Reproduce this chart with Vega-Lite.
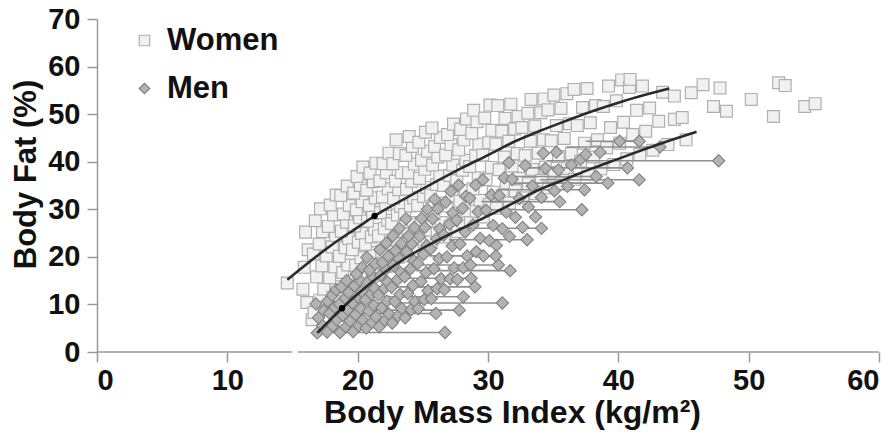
{
  "$schema": "https://vega.github.io/schema/vega-lite/v6.json",
  "width": 782,
  "height": 333,
  "autosize": {"type": "none"},
  "padding": {"left": 97, "top": 19, "right": 15, "bottom": 87},
  "background": "white",
  "config": {
    "font": "Liberation Sans",
    "view": {"stroke": null},
    "axis": {"grid": false, "labelFont": "Liberation Sans", "titleFont": "Liberation Sans"}
  },
  "datasets": {
    "subjects": [
      {"sex":"Women","bmi":14.6,"fat":14.5},{"sex":"Women","bmi":15.8,"fat":13.2},{"sex":"Women","bmi":16.1,"fat":10.4},{"sex":"Women","bmi":15.9,"fat":17.8},{"sex":"Women","bmi":16.2,"fat":21.5},{"sex":"Women","bmi":16.0,"fat":25.2},{"sex":"Women","bmi":16.5,"fat":6.8},
      {"sex":"Women","bmi":16.65,"fat":8.3},{"sex":"Women","bmi":17.1,"fat":10.9},{"sex":"Women","bmi":17.4,"fat":13.2},{"sex":"Women","bmi":16.85,"fat":15.8},{"sex":"Women","bmi":17.25,"fat":18.1},{"sex":"Women","bmi":16.6,"fat":20.6},{"sex":"Women","bmi":17.05,"fat":22.7},{"sex":"Women","bmi":17.3,"fat":25.3},{"sex":"Women","bmi":16.75,"fat":27.6},{"sex":"Women","bmi":17.15,"fat":30.1},
      {"sex":"Women","bmi":17.65,"fat":9.4},{"sex":"Women","bmi":18.1,"fat":11.5},{"sex":"Women","bmi":18.4,"fat":13.7},{"sex":"Women","bmi":17.85,"fat":15.6},{"sex":"Women","bmi":18.25,"fat":17.9},{"sex":"Women","bmi":17.6,"fat":20.2},{"sex":"Women","bmi":18.05,"fat":22.1},{"sex":"Women","bmi":18.3,"fat":24.5},{"sex":"Women","bmi":17.75,"fat":26.4},{"sex":"Women","bmi":18.15,"fat":28.8},{"sex":"Women","bmi":17.9,"fat":30.9},{"sex":"Women","bmi":18.35,"fat":33.0},
      {"sex":"Women","bmi":18.65,"fat":11.2},{"sex":"Women","bmi":19.1,"fat":12.9},{"sex":"Women","bmi":19.4,"fat":14.8},{"sex":"Women","bmi":18.85,"fat":16.7},{"sex":"Women","bmi":19.25,"fat":18.3},{"sex":"Women","bmi":18.6,"fat":20.1},{"sex":"Women","bmi":19.05,"fat":21.9},{"sex":"Women","bmi":19.3,"fat":23.8},{"sex":"Women","bmi":18.75,"fat":25.4},{"sex":"Women","bmi":19.15,"fat":27.3},{"sex":"Women","bmi":18.9,"fat":29.0},{"sex":"Women","bmi":19.35,"fat":30.8},{"sex":"Women","bmi":18.7,"fat":32.9},{"sex":"Women","bmi":19.2,"fat":34.9},
      {"sex":"Women","bmi":19.65,"fat":13.1},{"sex":"Women","bmi":20.1,"fat":14.9},{"sex":"Women","bmi":20.4,"fat":16.4},{"sex":"Women","bmi":19.85,"fat":18.2},{"sex":"Women","bmi":20.25,"fat":19.8},{"sex":"Women","bmi":19.6,"fat":21.5},{"sex":"Women","bmi":20.05,"fat":23.1},{"sex":"Women","bmi":20.3,"fat":24.9},{"sex":"Women","bmi":19.75,"fat":26.5},{"sex":"Women","bmi":20.15,"fat":28.2},{"sex":"Women","bmi":19.9,"fat":29.9},{"sex":"Women","bmi":20.35,"fat":31.6},{"sex":"Women","bmi":19.7,"fat":33.4},{"sex":"Women","bmi":20.2,"fat":35.0},{"sex":"Women","bmi":19.95,"fat":36.9},{"sex":"Women","bmi":20.4,"fat":38.9},
      {"sex":"Women","bmi":20.65,"fat":14.3},{"sex":"Women","bmi":21.1,"fat":15.9},{"sex":"Women","bmi":21.4,"fat":17.6},{"sex":"Women","bmi":20.85,"fat":19.2},{"sex":"Women","bmi":21.25,"fat":20.9},{"sex":"Women","bmi":20.6,"fat":22.6},{"sex":"Women","bmi":21.05,"fat":24.2},{"sex":"Women","bmi":21.3,"fat":25.8},{"sex":"Women","bmi":20.75,"fat":27.5},{"sex":"Women","bmi":21.15,"fat":29.1},{"sex":"Women","bmi":20.9,"fat":30.8},{"sex":"Women","bmi":21.35,"fat":32.4},{"sex":"Women","bmi":20.7,"fat":34.0},{"sex":"Women","bmi":21.2,"fat":35.8},{"sex":"Women","bmi":20.95,"fat":37.6},{"sex":"Women","bmi":21.4,"fat":39.7},
      {"sex":"Women","bmi":21.65,"fat":16.2},{"sex":"Women","bmi":22.1,"fat":17.9},{"sex":"Women","bmi":22.4,"fat":19.5},{"sex":"Women","bmi":21.85,"fat":21.2},{"sex":"Women","bmi":22.25,"fat":22.8},{"sex":"Women","bmi":21.6,"fat":24.4},{"sex":"Women","bmi":22.05,"fat":26.0},{"sex":"Women","bmi":22.3,"fat":27.7},{"sex":"Women","bmi":21.75,"fat":29.3},{"sex":"Women","bmi":22.15,"fat":31.0},{"sex":"Women","bmi":21.9,"fat":32.6},{"sex":"Women","bmi":22.35,"fat":34.3},{"sex":"Women","bmi":21.7,"fat":36.0},{"sex":"Women","bmi":22.2,"fat":37.7},{"sex":"Women","bmi":21.95,"fat":39.6},{"sex":"Women","bmi":22.4,"fat":41.8},
      {"sex":"Women","bmi":22.65,"fat":18.1},{"sex":"Women","bmi":23.1,"fat":19.9},{"sex":"Women","bmi":23.4,"fat":21.7},{"sex":"Women","bmi":22.85,"fat":23.5},{"sex":"Women","bmi":23.25,"fat":25.3},{"sex":"Women","bmi":22.6,"fat":27.0},{"sex":"Women","bmi":23.05,"fat":28.8},{"sex":"Women","bmi":23.3,"fat":30.6},{"sex":"Women","bmi":22.75,"fat":32.3},{"sex":"Women","bmi":23.15,"fat":34.1},{"sex":"Women","bmi":22.9,"fat":35.9},{"sex":"Women","bmi":23.35,"fat":37.7},{"sex":"Women","bmi":22.7,"fat":39.6},{"sex":"Women","bmi":23.2,"fat":41.7},{"sex":"Women","bmi":22.95,"fat":44.6},
      {"sex":"Women","bmi":23.65,"fat":20.2},{"sex":"Women","bmi":24.1,"fat":21.9},{"sex":"Women","bmi":24.4,"fat":23.7},{"sex":"Women","bmi":23.85,"fat":25.4},{"sex":"Women","bmi":24.25,"fat":27.2},{"sex":"Women","bmi":23.6,"fat":28.9},{"sex":"Women","bmi":24.05,"fat":30.7},{"sex":"Women","bmi":24.3,"fat":32.4},{"sex":"Women","bmi":23.75,"fat":34.2},{"sex":"Women","bmi":24.15,"fat":35.9},{"sex":"Women","bmi":23.9,"fat":37.7},{"sex":"Women","bmi":24.35,"fat":39.5},{"sex":"Women","bmi":23.7,"fat":41.3},{"sex":"Women","bmi":24.2,"fat":43.2},{"sex":"Women","bmi":23.95,"fat":45.3},
      {"sex":"Women","bmi":24.65,"fat":21.3},{"sex":"Women","bmi":25.1,"fat":23.2},{"sex":"Women","bmi":25.4,"fat":25.1},{"sex":"Women","bmi":24.85,"fat":27.0},{"sex":"Women","bmi":25.25,"fat":28.9},{"sex":"Women","bmi":24.6,"fat":30.8},{"sex":"Women","bmi":25.05,"fat":32.7},{"sex":"Women","bmi":25.3,"fat":34.6},{"sex":"Women","bmi":24.75,"fat":36.5},{"sex":"Women","bmi":25.15,"fat":38.4},{"sex":"Women","bmi":24.9,"fat":40.3},{"sex":"Women","bmi":25.35,"fat":42.2},{"sex":"Women","bmi":24.7,"fat":44.1},{"sex":"Women","bmi":25.2,"fat":46.2},
      {"sex":"Women","bmi":25.65,"fat":23.1},{"sex":"Women","bmi":26.1,"fat":25.0},{"sex":"Women","bmi":26.4,"fat":27.2},{"sex":"Women","bmi":25.85,"fat":29.0},{"sex":"Women","bmi":26.25,"fat":31.3},{"sex":"Women","bmi":25.6,"fat":33.0},{"sex":"Women","bmi":26.05,"fat":35.2},{"sex":"Women","bmi":26.3,"fat":37.0},{"sex":"Women","bmi":25.75,"fat":39.3},{"sex":"Women","bmi":26.15,"fat":41.0},{"sex":"Women","bmi":25.9,"fat":43.2},{"sex":"Women","bmi":26.35,"fat":45.1},{"sex":"Women","bmi":25.7,"fat":47.1},
      {"sex":"Women","bmi":26.65,"fat":24.2},{"sex":"Women","bmi":27.1,"fat":26.4},{"sex":"Women","bmi":27.4,"fat":28.5},{"sex":"Women","bmi":26.85,"fat":30.7},{"sex":"Women","bmi":27.25,"fat":32.8},{"sex":"Women","bmi":26.6,"fat":35.0},{"sex":"Women","bmi":27.05,"fat":37.1},{"sex":"Women","bmi":27.3,"fat":39.3},{"sex":"Women","bmi":26.75,"fat":41.4},{"sex":"Women","bmi":27.15,"fat":43.6},{"sex":"Women","bmi":26.9,"fat":45.7},{"sex":"Women","bmi":27.35,"fat":47.9},
      {"sex":"Women","bmi":27.65,"fat":25.3},{"sex":"Women","bmi":28.1,"fat":27.4},{"sex":"Women","bmi":28.4,"fat":29.6},{"sex":"Women","bmi":27.85,"fat":31.7},{"sex":"Women","bmi":28.25,"fat":33.9},{"sex":"Women","bmi":27.6,"fat":36.0},{"sex":"Women","bmi":28.05,"fat":38.2},{"sex":"Women","bmi":28.3,"fat":40.3},{"sex":"Women","bmi":27.75,"fat":42.5},{"sex":"Women","bmi":28.15,"fat":44.6},{"sex":"Women","bmi":27.9,"fat":46.8},{"sex":"Women","bmi":28.35,"fat":49.0},
      {"sex":"Women","bmi":28.65,"fat":27.2},{"sex":"Women","bmi":29.1,"fat":29.6},{"sex":"Women","bmi":29.4,"fat":31.9},{"sex":"Women","bmi":28.85,"fat":34.3},{"sex":"Women","bmi":29.25,"fat":36.6},{"sex":"Women","bmi":28.6,"fat":39.0},{"sex":"Women","bmi":29.05,"fat":41.3},{"sex":"Women","bmi":29.3,"fat":43.7},{"sex":"Women","bmi":28.75,"fat":46.0},{"sex":"Women","bmi":29.15,"fat":48.4},{"sex":"Women","bmi":28.9,"fat":50.8},
      {"sex":"Women","bmi":29.65,"fat":28.4},{"sex":"Women","bmi":30.1,"fat":31.0},{"sex":"Women","bmi":30.4,"fat":33.6},{"sex":"Women","bmi":29.85,"fat":36.2},{"sex":"Women","bmi":30.25,"fat":38.8},{"sex":"Women","bmi":29.6,"fat":41.4},{"sex":"Women","bmi":30.05,"fat":44.0},{"sex":"Women","bmi":30.3,"fat":46.6},{"sex":"Women","bmi":29.75,"fat":49.2},{"sex":"Women","bmi":30.15,"fat":51.9},
      {"sex":"Women","bmi":30.65,"fat":30.2},{"sex":"Women","bmi":31.1,"fat":32.9},{"sex":"Women","bmi":31.4,"fat":35.6},{"sex":"Women","bmi":30.85,"fat":38.3},{"sex":"Women","bmi":31.25,"fat":41.0},{"sex":"Women","bmi":30.6,"fat":43.7},{"sex":"Women","bmi":31.05,"fat":46.4},{"sex":"Women","bmi":31.3,"fat":49.1},{"sex":"Women","bmi":30.75,"fat":51.8},
      {"sex":"Women","bmi":31.65,"fat":31.3},{"sex":"Women","bmi":32.1,"fat":33.9},{"sex":"Women","bmi":32.4,"fat":36.5},{"sex":"Women","bmi":31.85,"fat":39.1},{"sex":"Women","bmi":32.25,"fat":41.7},{"sex":"Women","bmi":31.6,"fat":44.3},{"sex":"Women","bmi":32.05,"fat":46.9},{"sex":"Women","bmi":32.3,"fat":49.5},{"sex":"Women","bmi":31.75,"fat":52.1},
      {"sex":"Women","bmi":32.65,"fat":32.4},{"sex":"Women","bmi":33.1,"fat":35.4},{"sex":"Women","bmi":33.4,"fat":38.4},{"sex":"Women","bmi":32.85,"fat":41.3},{"sex":"Women","bmi":33.25,"fat":44.3},{"sex":"Women","bmi":32.6,"fat":47.2},{"sex":"Women","bmi":33.05,"fat":50.2},{"sex":"Women","bmi":33.3,"fat":53.1},
      {"sex":"Women","bmi":33.65,"fat":33.3},{"sex":"Women","bmi":34.1,"fat":36.1},{"sex":"Women","bmi":34.4,"fat":38.9},{"sex":"Women","bmi":33.85,"fat":41.8},{"sex":"Women","bmi":34.25,"fat":44.6},{"sex":"Women","bmi":33.6,"fat":47.5},{"sex":"Women","bmi":34.05,"fat":50.3},{"sex":"Women","bmi":34.3,"fat":53.2},
      {"sex":"Women","bmi":34.65,"fat":34.5},{"sex":"Women","bmi":35.1,"fat":37.8},{"sex":"Women","bmi":35.4,"fat":41.1},{"sex":"Women","bmi":34.85,"fat":44.4},{"sex":"Women","bmi":35.25,"fat":47.6},{"sex":"Women","bmi":34.6,"fat":50.9},{"sex":"Women","bmi":35.05,"fat":54.0},
      {"sex":"Women","bmi":35.65,"fat":35.4},{"sex":"Women","bmi":36.1,"fat":38.6},{"sex":"Women","bmi":36.4,"fat":41.7},{"sex":"Women","bmi":35.85,"fat":44.9},{"sex":"Women","bmi":36.25,"fat":48.0},{"sex":"Women","bmi":35.6,"fat":51.2},{"sex":"Women","bmi":36.05,"fat":54.3},
      {"sex":"Women","bmi":36.65,"fat":36.3},{"sex":"Women","bmi":37.1,"fat":40.1},{"sex":"Women","bmi":37.4,"fat":43.9},{"sex":"Women","bmi":36.85,"fat":47.6},{"sex":"Women","bmi":37.25,"fat":51.4},{"sex":"Women","bmi":36.6,"fat":55.2},
      {"sex":"Women","bmi":37.65,"fat":37.4},{"sex":"Women","bmi":38.1,"fat":41.0},{"sex":"Women","bmi":38.4,"fat":44.6},{"sex":"Women","bmi":37.85,"fat":48.2},{"sex":"Women","bmi":38.25,"fat":51.8},{"sex":"Women","bmi":37.6,"fat":55.4},
      {"sex":"Women","bmi":38.65,"fat":38.5},{"sex":"Women","bmi":39.1,"fat":42.9},{"sex":"Women","bmi":39.4,"fat":47.2},{"sex":"Women","bmi":38.85,"fat":51.6},{"sex":"Women","bmi":39.25,"fat":55.9},
      {"sex":"Women","bmi":39.65,"fat":39.4},{"sex":"Women","bmi":40.1,"fat":43.9},{"sex":"Women","bmi":40.4,"fat":48.3},{"sex":"Women","bmi":39.85,"fat":52.8},{"sex":"Women","bmi":40.25,"fat":57.2},
      {"sex":"Women","bmi":40.65,"fat":40.6},{"sex":"Women","bmi":41.1,"fat":45.7},{"sex":"Women","bmi":41.4,"fat":50.8},{"sex":"Women","bmi":40.85,"fat":55.6},
      {"sex":"Women","bmi":41.65,"fat":41.5},{"sex":"Women","bmi":42.1,"fat":46.4},{"sex":"Women","bmi":42.4,"fat":51.3},{"sex":"Women","bmi":41.85,"fat":55.9},
      {"sex":"Women","bmi":42.65,"fat":42.4},{"sex":"Women","bmi":43.1,"fat":48.5},{"sex":"Women","bmi":43.4,"fat":54.6},
      {"sex":"Women","bmi":43.8,"fat":43.6},{"sex":"Women","bmi":44.3,"fat":48.9},{"sex":"Women","bmi":44.3,"fat":53.8},
      {"sex":"Women","bmi":45.2,"fat":44.6},{"sex":"Women","bmi":44.9,"fat":49.3},
      {"sex":"Women","bmi":45.6,"fat":54.5},{"sex":"Women","bmi":46.5,"fat":56.2},{"sex":"Women","bmi":47.8,"fat":55.5},{"sex":"Women","bmi":47.3,"fat":51.6},{"sex":"Women","bmi":48.3,"fat":50.6},{"sex":"Women","bmi":50.2,"fat":53.1},{"sex":"Women","bmi":51.9,"fat":49.5},{"sex":"Women","bmi":52.3,"fat":56.6},{"sex":"Women","bmi":52.8,"fat":56.0},{"sex":"Women","bmi":54.3,"fat":51.6},{"sex":"Women","bmi":55.1,"fat":52.2},{"sex":"Women","bmi":40.9,"fat":57.3},

      {"sex":"Men","bmi":16.9,"fat":4.0},{"sex":"Men","bmi":17.3,"fat":5.6},{"sex":"Men","bmi":17.0,"fat":7.2},{"sex":"Men","bmi":17.4,"fat":8.7},{"sex":"Men","bmi":16.8,"fat":10.1},
      {"sex":"Men","bmi":17.65,"fat":4.2},{"sex":"Men","bmi":18.1,"fat":5.5},{"sex":"Men","bmi":18.4,"fat":6.8},{"sex":"Men","bmi":17.85,"fat":8.1},{"sex":"Men","bmi":18.25,"fat":9.4},{"sex":"Men","bmi":17.7,"fat":10.7},{"sex":"Men","bmi":18.05,"fat":11.9},{"sex":"Men","bmi":18.35,"fat":13.1},
      {"sex":"Men","bmi":18.65,"fat":4.1},{"sex":"Men","bmi":19.1,"fat":5.3},{"sex":"Men","bmi":19.4,"fat":6.5},{"sex":"Men","bmi":18.85,"fat":7.7},{"sex":"Men","bmi":19.25,"fat":8.9},{"sex":"Men","bmi":18.6,"fat":10.1},{"sex":"Men","bmi":19.05,"fat":11.3},{"sex":"Men","bmi":19.3,"fat":12.5},{"sex":"Men","bmi":18.75,"fat":13.7},{"sex":"Men","bmi":19.15,"fat":15.0},
      {"sex":"Men","bmi":19.65,"fat":4.3},{"sex":"Men","bmi":20.1,"fat":5.5},{"sex":"Men","bmi":20.4,"fat":6.7},{"sex":"Men","bmi":19.85,"fat":7.9},{"sex":"Men","bmi":20.25,"fat":9.1},{"sex":"Men","bmi":19.6,"fat":10.3},{"sex":"Men","bmi":20.05,"fat":11.5},{"sex":"Men","bmi":20.3,"fat":12.7},{"sex":"Men","bmi":19.75,"fat":13.9},{"sex":"Men","bmi":20.15,"fat":15.1},{"sex":"Men","bmi":19.9,"fat":16.4},{"sex":"Men","bmi":20.35,"fat":17.8},
      {"sex":"Men","bmi":20.65,"fat":5.0},{"sex":"Men","bmi":21.1,"fat":6.2},{"sex":"Men","bmi":21.4,"fat":7.4},{"sex":"Men","bmi":20.85,"fat":8.6},{"sex":"Men","bmi":21.25,"fat":9.8},{"sex":"Men","bmi":20.6,"fat":11.0},{"sex":"Men","bmi":21.05,"fat":12.2},{"sex":"Men","bmi":21.3,"fat":13.4},{"sex":"Men","bmi":20.75,"fat":14.6},{"sex":"Men","bmi":21.15,"fat":15.9},{"sex":"Men","bmi":20.9,"fat":17.2},{"sex":"Men","bmi":21.35,"fat":18.5},{"sex":"Men","bmi":20.7,"fat":19.9},
      {"sex":"Men","bmi":21.65,"fat":5.3},{"sex":"Men","bmi":22.1,"fat":6.6},{"sex":"Men","bmi":22.4,"fat":8.0},{"sex":"Men","bmi":21.85,"fat":9.3},{"sex":"Men","bmi":22.25,"fat":10.7},{"sex":"Men","bmi":21.6,"fat":12.0},{"sex":"Men","bmi":22.05,"fat":13.4},{"sex":"Men","bmi":22.3,"fat":14.7},{"sex":"Men","bmi":21.75,"fat":16.1},{"sex":"Men","bmi":22.15,"fat":17.4},{"sex":"Men","bmi":21.9,"fat":18.8},{"sex":"Men","bmi":22.35,"fat":20.1},{"sex":"Men","bmi":21.7,"fat":21.5},{"sex":"Men","bmi":22.2,"fat":22.9},
      {"sex":"Men","bmi":22.65,"fat":6.1},{"sex":"Men","bmi":23.1,"fat":7.6},{"sex":"Men","bmi":23.4,"fat":9.1},{"sex":"Men","bmi":22.85,"fat":10.6},{"sex":"Men","bmi":23.25,"fat":12.1},{"sex":"Men","bmi":22.6,"fat":13.6},{"sex":"Men","bmi":23.05,"fat":15.2},{"sex":"Men","bmi":23.3,"fat":16.7},{"sex":"Men","bmi":22.75,"fat":18.2},{"sex":"Men","bmi":23.15,"fat":19.7},{"sex":"Men","bmi":22.9,"fat":21.3},{"sex":"Men","bmi":23.35,"fat":22.8},{"sex":"Men","bmi":22.7,"fat":24.4},{"sex":"Men","bmi":23.2,"fat":26.0},
      {"sex":"Men","bmi":23.65,"fat":7.2},{"sex":"Men","bmi":24.1,"fat":8.9},{"sex":"Men","bmi":24.4,"fat":10.6},{"sex":"Men","bmi":23.85,"fat":12.3},{"sex":"Men","bmi":24.25,"fat":14.0},{"sex":"Men","bmi":23.6,"fat":15.8},{"sex":"Men","bmi":24.05,"fat":17.5},{"sex":"Men","bmi":24.3,"fat":19.2},{"sex":"Men","bmi":23.75,"fat":21.0},{"sex":"Men","bmi":24.15,"fat":22.7},{"sex":"Men","bmi":23.9,"fat":24.4},{"sex":"Men","bmi":24.35,"fat":26.2},{"sex":"Men","bmi":23.7,"fat":28.0},
      {"sex":"Men","bmi":24.65,"fat":9.1},{"sex":"Men","bmi":25.1,"fat":11.0},{"sex":"Men","bmi":25.4,"fat":12.9},{"sex":"Men","bmi":24.85,"fat":14.8},{"sex":"Men","bmi":25.25,"fat":16.7},{"sex":"Men","bmi":24.6,"fat":18.6},{"sex":"Men","bmi":25.05,"fat":20.5},{"sex":"Men","bmi":25.3,"fat":22.4},{"sex":"Men","bmi":24.75,"fat":24.3},{"sex":"Men","bmi":25.15,"fat":26.2},{"sex":"Men","bmi":24.9,"fat":28.1},{"sex":"Men","bmi":25.35,"fat":30.0},
      {"sex":"Men","bmi":25.65,"fat":11.2},{"sex":"Men","bmi":26.1,"fat":13.3},{"sex":"Men","bmi":26.4,"fat":15.4},{"sex":"Men","bmi":25.85,"fat":17.5},{"sex":"Men","bmi":26.25,"fat":19.6},{"sex":"Men","bmi":25.6,"fat":21.7},{"sex":"Men","bmi":26.05,"fat":23.8},{"sex":"Men","bmi":26.3,"fat":25.9},{"sex":"Men","bmi":25.75,"fat":28.0},{"sex":"Men","bmi":26.15,"fat":30.1},{"sex":"Men","bmi":25.9,"fat":32.1},
      {"sex":"Men","bmi":26.65,"fat":13.1},{"sex":"Men","bmi":27.1,"fat":15.4},{"sex":"Men","bmi":27.4,"fat":17.7},{"sex":"Men","bmi":26.85,"fat":20.0},{"sex":"Men","bmi":27.25,"fat":22.3},{"sex":"Men","bmi":26.6,"fat":24.6},{"sex":"Men","bmi":27.05,"fat":26.9},{"sex":"Men","bmi":27.3,"fat":29.2},{"sex":"Men","bmi":26.75,"fat":31.5},{"sex":"Men","bmi":27.15,"fat":33.8},
      {"sex":"Men","bmi":27.65,"fat":15.2},{"sex":"Men","bmi":28.1,"fat":17.7},{"sex":"Men","bmi":28.4,"fat":20.2},{"sex":"Men","bmi":27.85,"fat":22.7},{"sex":"Men","bmi":28.25,"fat":25.2},{"sex":"Men","bmi":27.6,"fat":27.7},{"sex":"Men","bmi":28.05,"fat":30.2},{"sex":"Men","bmi":28.3,"fat":32.7},{"sex":"Men","bmi":27.75,"fat":35.1},
      {"sex":"Men","bmi":28.65,"fat":18.3},{"sex":"Men","bmi":29.1,"fat":21.1},{"sex":"Men","bmi":29.4,"fat":23.9},{"sex":"Men","bmi":28.85,"fat":26.7},{"sex":"Men","bmi":29.25,"fat":29.5},{"sex":"Men","bmi":28.6,"fat":32.3},{"sex":"Men","bmi":29.05,"fat":35.1},
      {"sex":"Men","bmi":29.65,"fat":20.2},{"sex":"Men","bmi":30.1,"fat":23.4},{"sex":"Men","bmi":30.4,"fat":26.6},{"sex":"Men","bmi":29.85,"fat":29.8},{"sex":"Men","bmi":30.25,"fat":33.0},{"sex":"Men","bmi":29.6,"fat":36.2},
      {"sex":"Men","bmi":30.65,"fat":22.4},{"sex":"Men","bmi":31.1,"fat":25.9},{"sex":"Men","bmi":31.4,"fat":29.4},{"sex":"Men","bmi":30.85,"fat":32.9},{"sex":"Men","bmi":31.25,"fat":36.6},
      {"sex":"Men","bmi":31.65,"fat":24.3},{"sex":"Men","bmi":32.1,"fat":28.3},{"sex":"Men","bmi":32.4,"fat":32.3},{"sex":"Men","bmi":31.85,"fat":36.3},{"sex":"Men","bmi":31.6,"fat":39.8},
      {"sex":"Men","bmi":32.65,"fat":26.2},{"sex":"Men","bmi":33.1,"fat":30.5},{"sex":"Men","bmi":33.4,"fat":34.9},{"sex":"Men","bmi":32.85,"fat":39.2},
      {"sex":"Men","bmi":33.65,"fat":28.4},{"sex":"Men","bmi":34.1,"fat":32.5},{"sex":"Men","bmi":34.4,"fat":38.6},{"sex":"Men","bmi":34.25,"fat":41.8},
      {"sex":"Men","bmi":35.1,"fat":33.9},{"sex":"Men","bmi":35.4,"fat":38.3},{"sex":"Men","bmi":35.25,"fat":42.0},
      {"sex":"Men","bmi":36.1,"fat":34.8},{"sex":"Men","bmi":36.4,"fat":39.3},
      {"sex":"Men","bmi":37.1,"fat":40.5},{"sex":"Men","bmi":37.5,"fat":41.5},
      {"sex":"Men","bmi":38.6,"fat":42.0},{"sex":"Men","bmi":40.1,"fat":44.3},
      {"sex":"Men","bmi":26.7,"fat":4.1},{"sex":"Men","bmi":26.0,"fat":8.1},{"sex":"Men","bmi":27.8,"fat":8.8},{"sex":"Men","bmi":31.1,"fat":10.3},{"sex":"Men","bmi":28.1,"fat":11.6},{"sex":"Men","bmi":29.0,"fat":13.7},{"sex":"Men","bmi":28.7,"fat":15.5},{"sex":"Men","bmi":31.7,"fat":17.1},{"sex":"Men","bmi":30.8,"fat":18.3},{"sex":"Men","bmi":30.6,"fat":20.2},{"sex":"Men","bmi":33.0,"fat":23.6},{"sex":"Men","bmi":34.1,"fat":26.0},{"sex":"Men","bmi":37.2,"fat":29.9},{"sex":"Men","bmi":35.5,"fat":31.6},{"sex":"Men","bmi":37.4,"fat":34.1},{"sex":"Men","bmi":39.2,"fat":35.5},{"sex":"Men","bmi":41.6,"fat":36.2},{"sex":"Men","bmi":40.7,"fat":38.7},{"sex":"Men","bmi":47.7,"fat":40.2},{"sex":"Men","bmi":43.2,"fat":43.1},{"sex":"Men","bmi":41.6,"fat":44.3},{"sex":"Men","bmi":38.3,"fat":36.9}
    ],
    "menLinks": [
      {"bmi":17.6,"bmi2":26.7,"fat":4.1},{"bmi":19.5,"bmi2":26.0,"fat":8.1},{"bmi":20.5,"bmi2":27.8,"fat":8.8},{"bmi":21.0,"bmi2":31.1,"fat":10.3},
      {"bmi":22.0,"bmi2":28.1,"fat":11.6},{"bmi":22.5,"bmi2":29.0,"fat":13.7},{"bmi":23.5,"bmi2":28.7,"fat":15.5},{"bmi":24.5,"bmi2":31.7,"fat":17.1},
      {"bmi":25.0,"bmi2":30.8,"fat":18.3},{"bmi":25.5,"bmi2":30.6,"fat":20.2},{"bmi":27.0,"bmi2":33.0,"fat":23.6},{"bmi":28.0,"bmi2":34.1,"fat":26.0},
      {"bmi":30.0,"bmi2":37.2,"fat":29.9},{"bmi":29.5,"bmi2":35.5,"fat":31.6},{"bmi":31.0,"bmi2":37.4,"fat":34.1},{"bmi":32.0,"bmi2":39.2,"fat":35.5},
      {"bmi":34.0,"bmi2":41.6,"fat":36.2},{"bmi":33.0,"bmi2":40.7,"fat":38.7},{"bmi":34.5,"bmi2":47.7,"fat":40.2},{"bmi":36.0,"bmi2":43.2,"fat":43.1},
      {"bmi":37.5,"bmi2":41.6,"fat":44.3},{"bmi":31.0,"bmi2":38.3,"fat":36.9}
    ],
    "fits": [
      {"curve":"Women","bmi":14.6,"fat":15.2},{"curve":"Women","bmi":16,"fat":18.3},{"curve":"Women","bmi":18,"fat":22.5},{"curve":"Women","bmi":20,"fat":26.2},
      {"curve":"Women","bmi":21.3,"fat":28.6},{"curve":"Women","bmi":24,"fat":32.8},{"curve":"Women","bmi":26,"fat":35.8},{"curve":"Women","bmi":28,"fat":38.7},
      {"curve":"Women","bmi":30,"fat":41.4},{"curve":"Women","bmi":32,"fat":44.2},{"curve":"Women","bmi":34,"fat":46.5},{"curve":"Women","bmi":36,"fat":48.6},
      {"curve":"Women","bmi":38,"fat":50.6},{"curve":"Women","bmi":40,"fat":52.4},{"curve":"Women","bmi":42,"fat":54.0},{"curve":"Women","bmi":43.9,"fat":55.4},
      {"curve":"Men","bmi":16.9,"fat":4.0},{"curve":"Men","bmi":18.8,"fat":9.2},{"curve":"Men","bmi":20,"fat":12.2},{"curve":"Men","bmi":22,"fat":16.6},
      {"curve":"Men","bmi":24,"fat":20.3},{"curve":"Men","bmi":26,"fat":23.3},{"curve":"Men","bmi":28,"fat":26.0},{"curve":"Men","bmi":30,"fat":28.6},
      {"curve":"Men","bmi":32,"fat":31.4},{"curve":"Men","bmi":34,"fat":34.2},{"curve":"Men","bmi":36,"fat":36.4},{"curve":"Men","bmi":38,"fat":38.6},
      {"curve":"Men","bmi":40,"fat":40.6},{"curve":"Men","bmi":42,"fat":42.6},{"curve":"Men","bmi":44,"fat":44.5},{"curve":"Men","bmi":46,"fat":46.3}
    ],
    "fitMarkers": [
      {"bmi":21.3,"fat":28.6},{"bmi":18.8,"fat":9.2}
    ],
    "xAxisLine": [
      {"bmi":0,"bmi2":15.0},{"bmi":15.4,"bmi2":60}
    ]
  },
  "layer": [
    {
      "data": {"name": "xAxisLine"},
      "mark": {"type": "rule", "color": "#9a9a9a", "strokeWidth": 1.5},
      "encoding": {
        "x": {"field": "bmi", "type": "quantitative", "scale": {"domain": [0, 60], "nice": false},
          "axis": {
            "values": [0, 10, 20, 30, 40, 50, 60],
            "domain": false,
            "tickColor": "#9a9a9a", "tickWidth": 1.5, "tickSize": 10,
            "labelFontSize": 29, "labelFontWeight": "bold", "labelColor": "#111111", "labelPadding": 4,
            "title": "Body Mass Index (kg/m²)",
            "titleFontSize": 32, "titleFontWeight": "bold", "titleColor": "#111111",
            "titleX": 415, "titleY": 70, "titleBaseline": "alphabetic", "titleAlign": "center"
          }
        },
        "x2": {"field": "bmi2"},
        "y": {"datum": 0, "type": "quantitative", "scale": {"domain": [0, 70], "nice": false},
          "axis": {
            "values": [0, 10, 20, 30, 40, 50, 60, 70],
            "domainColor": "#9a9a9a", "domainWidth": 1.5,
            "tickColor": "#9a9a9a", "tickWidth": 1.5, "tickSize": 10,
            "labelFontSize": 29, "labelFontWeight": "bold", "labelColor": "#111111", "labelPadding": 7,
            "title": "Body Fat (%)",
            "titleFontSize": 31, "titleFontWeight": "bold", "titleColor": "#111111",
            "titleAngle": -90, "titleX": -62, "titleY": 155, "titleBaseline": "alphabetic", "titleAlign": "center"
          }
        }
      }
    },
    {
      "data": {"name": "subjects"},
      "transform": [{"filter": "datum.sex === 'Women'"}],
      "mark": {"type": "point", "size": 140, "strokeWidth": 1.2, "opacity": 1, "fillOpacity": 1},
      "encoding": {
        "x": {"field": "bmi", "type": "quantitative"},
        "y": {"field": "fat", "type": "quantitative"},
        "shape": {"field": "sex", "type": "nominal",
          "scale": {"domain": ["Women", "Men"], "range": ["square", "diamond"]},
          "legend": {"title": null, "orient": "none", "legendX": 32, "legendY": 6, "padding": 0,
            "labelFontSize": 31, "labelFontWeight": "bold", "labelColor": "#111111", "labelOffset": 7,
            "symbolSize": 110, "rowPadding": 16, "symbolStrokeWidth": 1.2}},
        "fill": {"field": "sex", "type": "nominal",
          "scale": {"domain": ["Women", "Men"], "range": ["#f1f1f1", "#b3b3b3"]},
          "legend": {"title": null, "orient": "none", "legendX": 32, "legendY": 6, "padding": 0,
            "labelFontSize": 31, "labelFontWeight": "bold", "labelColor": "#111111", "labelOffset": 7,
            "symbolSize": 110, "rowPadding": 16, "symbolStrokeWidth": 1.2}},
        "stroke": {"field": "sex", "type": "nominal",
          "scale": {"domain": ["Women", "Men"], "range": ["#b0b0b0", "#808080"]},
          "legend": {"title": null, "orient": "none", "legendX": 32, "legendY": 6, "padding": 0,
            "labelFontSize": 31, "labelFontWeight": "bold", "labelColor": "#111111", "labelOffset": 7,
            "symbolSize": 110, "rowPadding": 16, "symbolStrokeWidth": 1.2}}
      }
    },
    {
      "data": {"name": "menLinks"},
      "mark": {"type": "rule", "color": "#8f8f8f", "strokeWidth": 1.6},
      "encoding": {
        "x": {"field": "bmi", "type": "quantitative"},
        "x2": {"field": "bmi2"},
        "y": {"field": "fat", "type": "quantitative"}
      }
    },
    {
      "data": {"name": "subjects"},
      "transform": [{"filter": "datum.sex === 'Men'"}],
      "mark": {"type": "point", "size": 150, "strokeWidth": 1.1, "opacity": 1, "fillOpacity": 1},
      "encoding": {
        "x": {"field": "bmi", "type": "quantitative"},
        "y": {"field": "fat", "type": "quantitative"},
        "shape": {"field": "sex", "type": "nominal"},
        "fill": {"field": "sex", "type": "nominal"},
        "stroke": {"field": "sex", "type": "nominal"}
      }
    },
    {
      "data": {"name": "fits"},
      "mark": {"type": "line", "color": "#2a2a2a", "strokeWidth": 2.6, "interpolate": "monotone"},
      "encoding": {
        "x": {"field": "bmi", "type": "quantitative"},
        "y": {"field": "fat", "type": "quantitative"},
        "detail": {"field": "curve", "type": "nominal"}
      }
    },
    {
      "data": {"name": "fitMarkers"},
      "mark": {"type": "point", "filled": true, "color": "#000000", "size": 40, "opacity": 1},
      "encoding": {
        "x": {"field": "bmi", "type": "quantitative"},
        "y": {"field": "fat", "type": "quantitative"}
      }
    }
  ]
}
